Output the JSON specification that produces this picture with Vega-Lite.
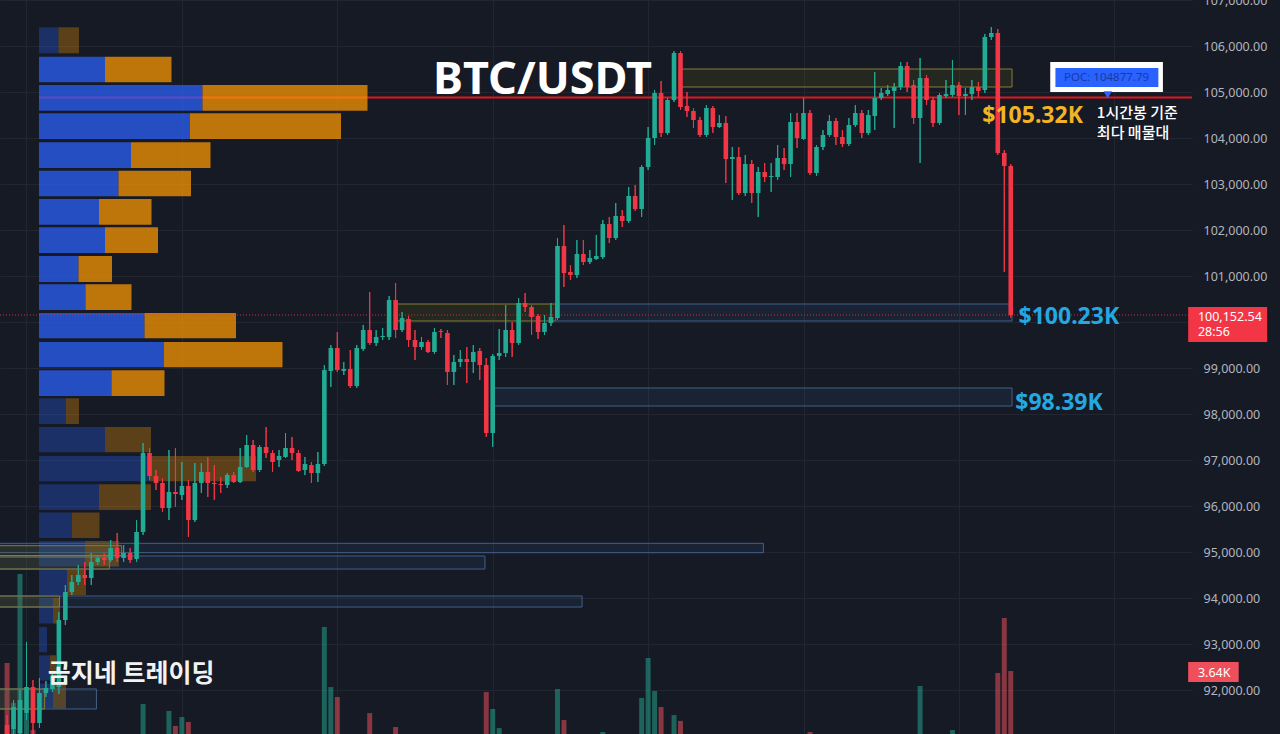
{
"$schema": "https://vega.github.io/schema/vega-lite/v6.json",
"width": 1192, "height": 734,
"autosize": {"type": "none"},
"padding": {"left": 0, "top": 0, "right": 88, "bottom": 0},
"background": "#161a25",
"config": {"view": {"stroke": null}},
"datasets": {
"candles": [
{"k":-3,"o":91239,"h":91457,"l":90804,"c":90978,"v":4010},
{"k":-2,"o":91152,"h":91783,"l":90978,"c":91630,"v":2170},
{"k":-1,"o":91065,"h":92000,"l":90978,"c":91783,"v":8110},
{"k":0,"o":91500,"h":93044,"l":91348,"c":92065,"v":1700},
{"k":1,"o":92065,"h":92217,"l":91022,"c":91283,"v":920},
{"k":2,"o":91283,"h":92261,"l":91174,"c":91935,"v":520},
{"k":3,"o":91935,"h":92196,"l":91848,"c":92043,"v":410},
{"k":4,"o":92022,"h":92391,"l":91957,"c":92304,"v":450},
{"k":5,"o":92065,"h":93696,"l":91913,"c":93522,"v":650},
{"k":6,"o":93522,"h":94283,"l":93413,"c":94130,"v":600},
{"k":7,"o":94130,"h":94500,"l":94065,"c":94348,"v":420},
{"k":8,"o":94348,"h":94717,"l":94283,"c":94500,"v":380},
{"k":9,"o":94500,"h":94783,"l":94283,"c":94435,"v":350},
{"k":10,"o":94435,"h":94978,"l":94283,"c":94783,"v":400},
{"k":11,"o":94783,"h":94935,"l":94717,"c":94870,"v":300},
{"k":12,"o":94870,"h":94978,"l":94717,"c":94826,"v":280},
{"k":13,"o":94826,"h":95261,"l":94783,"c":95087,"v":360},
{"k":14,"o":95087,"h":95413,"l":94783,"c":94870,"v":390},
{"k":15,"o":94870,"h":95152,"l":94783,"c":94978,"v":270},
{"k":16,"o":94978,"h":95087,"l":94761,"c":94826,"v":260},
{"k":17,"o":94848,"h":95696,"l":94783,"c":95435,"v":480},
{"k":18,"o":95435,"h":97370,"l":95370,"c":97152,"v":2120},
{"k":19,"o":97152,"h":97261,"l":96565,"c":96652,"v":690},
{"k":20,"o":96652,"h":96783,"l":96348,"c":96500,"v":430},
{"k":21,"o":96500,"h":96609,"l":95870,"c":95957,"v":610},
{"k":22,"o":95957,"h":97217,"l":95696,"c":96304,"v":1800},
{"k":23,"o":96304,"h":97261,"l":95978,"c":96261,"v":1110},
{"k":24,"o":96239,"h":96957,"l":96130,"c":96435,"v":1520},
{"k":25,"o":96435,"h":96565,"l":95326,"c":95696,"v":1290},
{"k":26,"o":95696,"h":96935,"l":95652,"c":96500,"v":640},
{"k":27,"o":96500,"h":96935,"l":96283,"c":96739,"v":420},
{"k":28,"o":96739,"h":97065,"l":96196,"c":96500,"v":450},
{"k":29,"o":96500,"h":96891,"l":96130,"c":96478,"v":380},
{"k":30,"o":96478,"h":96630,"l":96283,"c":96457,"v":300},
{"k":31,"o":96457,"h":96717,"l":96391,"c":96674,"v":310},
{"k":32,"o":96674,"h":96739,"l":96500,"c":96522,"v":260},
{"k":33,"o":96522,"h":97261,"l":96500,"c":96848,"v":520},
{"k":34,"o":96848,"h":97543,"l":96826,"c":97326,"v":580},
{"k":35,"o":97326,"h":97435,"l":96739,"c":96783,"v":540},
{"k":36,"o":96783,"h":97326,"l":96739,"c":97283,"v":470},
{"k":37,"o":97283,"h":97717,"l":97043,"c":97152,"v":450},
{"k":38,"o":97152,"h":97217,"l":96739,"c":96957,"v":330},
{"k":39,"o":97000,"h":97217,"l":96848,"c":97087,"v":280},
{"k":40,"o":97065,"h":97587,"l":97043,"c":97261,"v":360},
{"k":41,"o":97261,"h":97500,"l":97000,"c":97152,"v":300},
{"k":42,"o":97152,"h":97217,"l":96739,"c":96761,"v":420},
{"k":43,"o":96783,"h":97065,"l":96674,"c":96913,"v":290},
{"k":44,"o":96891,"h":96957,"l":96500,"c":96717,"v":350},
{"k":45,"o":96717,"h":97174,"l":96522,"c":96913,"v":400},
{"k":46,"o":96913,"h":99065,"l":96870,"c":98957,"v":5670},
{"k":47,"o":98935,"h":99500,"l":98587,"c":99435,"v":2900},
{"k":48,"o":99435,"h":99783,"l":98913,"c":98957,"v":2440},
{"k":49,"o":98935,"h":99130,"l":98848,"c":98978,"v":620},
{"k":50,"o":98978,"h":99391,"l":98565,"c":98609,"v":700},
{"k":51,"o":98609,"h":99500,"l":98565,"c":99435,"v":680},
{"k":52,"o":99413,"h":99935,"l":99370,"c":99826,"v":600},
{"k":53,"o":99826,"h":100652,"l":99500,"c":99543,"v":1700},
{"k":54,"o":99543,"h":99826,"l":99478,"c":99674,"v":500},
{"k":55,"o":99674,"h":99870,"l":99609,"c":99696,"v":380},
{"k":56,"o":99674,"h":100565,"l":99609,"c":100478,"v":690},
{"k":57,"o":100478,"h":100848,"l":99652,"c":99826,"v":1060},
{"k":58,"o":99826,"h":100217,"l":99783,"c":100087,"v":440},
{"k":59,"o":100065,"h":100130,"l":99457,"c":99609,"v":520},
{"k":60,"o":99609,"h":99826,"l":99174,"c":99457,"v":480},
{"k":61,"o":99457,"h":99674,"l":99391,"c":99565,"v":300},
{"k":62,"o":99565,"h":99609,"l":99326,"c":99348,"v":320},
{"k":63,"o":99348,"h":99870,"l":99304,"c":99783,"v":410},
{"k":64,"o":99804,"h":99848,"l":99652,"c":99783,"v":250},
{"k":65,"o":99761,"h":99826,"l":98630,"c":98913,"v":700},
{"k":66,"o":98913,"h":99283,"l":98630,"c":99130,"v":560},
{"k":67,"o":99130,"h":99391,"l":99022,"c":99196,"v":330},
{"k":68,"o":99196,"h":99457,"l":98674,"c":99130,"v":410},
{"k":69,"o":99130,"h":99500,"l":98891,"c":99348,"v":380},
{"k":70,"o":99370,"h":99435,"l":98739,"c":99065,"v":450},
{"k":71,"o":99065,"h":99217,"l":97500,"c":97587,"v":2670},
{"k":72,"o":97587,"h":99304,"l":97283,"c":99261,"v":1890},
{"k":73,"o":99261,"h":99848,"l":99174,"c":99326,"v":1010},
{"k":74,"o":99326,"h":100370,"l":99239,"c":99826,"v":700},
{"k":75,"o":99826,"h":100000,"l":99239,"c":99543,"v":520},
{"k":76,"o":99543,"h":100522,"l":99500,"c":100413,"v":690},
{"k":77,"o":100413,"h":100630,"l":100217,"c":100326,"v":380},
{"k":78,"o":100326,"h":100370,"l":99717,"c":100109,"v":420},
{"k":79,"o":100130,"h":100174,"l":99630,"c":99783,"v":460},
{"k":80,"o":99783,"h":100152,"l":99717,"c":99978,"v":350},
{"k":81,"o":99978,"h":100413,"l":99913,"c":100109,"v":400},
{"k":82,"o":100087,"h":101826,"l":100044,"c":101652,"v":2810},
{"k":83,"o":101652,"h":102109,"l":100761,"c":101065,"v":1380},
{"k":84,"o":101087,"h":101239,"l":100913,"c":101022,"v":430},
{"k":85,"o":101022,"h":101783,"l":100957,"c":101478,"v":560},
{"k":86,"o":101478,"h":101783,"l":101239,"c":101304,"v":450},
{"k":87,"o":101304,"h":101565,"l":101261,"c":101391,"v":300},
{"k":88,"o":101370,"h":101891,"l":101348,"c":101435,"v":320},
{"k":89,"o":101413,"h":102217,"l":101370,"c":102130,"v":830},
{"k":90,"o":102130,"h":102283,"l":101717,"c":101826,"v":540},
{"k":91,"o":101826,"h":102587,"l":101783,"c":102304,"v":600},
{"k":92,"o":102304,"h":102435,"l":102065,"c":102196,"v":380},
{"k":93,"o":102196,"h":102935,"l":102152,"c":102739,"v":560},
{"k":94,"o":102739,"h":102978,"l":102413,"c":102457,"v":480},
{"k":95,"o":102457,"h":103413,"l":102283,"c":103370,"v":2400},
{"k":96,"o":103370,"h":104239,"l":103304,"c":104000,"v":4240},
{"k":97,"o":104000,"h":105043,"l":103848,"c":104978,"v":2720},
{"k":98,"o":104978,"h":105239,"l":104022,"c":104109,"v":1980},
{"k":99,"o":104109,"h":104870,"l":104065,"c":104826,"v":700},
{"k":100,"o":104826,"h":105891,"l":104783,"c":105848,"v":1610},
{"k":101,"o":105848,"h":105891,"l":104609,"c":104674,"v":1340},
{"k":102,"o":104696,"h":105000,"l":104457,"c":104587,"v":600},
{"k":103,"o":104587,"h":104652,"l":104217,"c":104391,"v":500},
{"k":104,"o":104391,"h":104457,"l":104022,"c":104065,"v":520},
{"k":105,"o":104065,"h":104717,"l":104022,"c":104652,"v":560},
{"k":106,"o":104652,"h":104696,"l":104109,"c":104239,"v":450},
{"k":107,"o":104239,"h":104500,"l":104217,"c":104326,"v":300},
{"k":108,"o":104326,"h":104478,"l":103022,"c":103543,"v":700},
{"k":109,"o":103543,"h":103804,"l":102652,"c":103587,"v":620},
{"k":110,"o":103587,"h":103804,"l":102761,"c":102804,"v":650},
{"k":111,"o":102804,"h":103630,"l":102739,"c":103435,"v":600},
{"k":112,"o":103435,"h":103522,"l":102587,"c":102804,"v":560},
{"k":113,"o":102804,"h":103370,"l":102283,"c":103261,"v":640},
{"k":114,"o":103261,"h":103457,"l":103043,"c":103152,"v":330},
{"k":115,"o":103152,"h":103457,"l":102826,"c":103174,"v":350},
{"k":116,"o":103152,"h":103848,"l":103087,"c":103565,"v":480},
{"k":117,"o":103565,"h":103783,"l":103304,"c":103435,"v":340},
{"k":118,"o":103435,"h":104543,"l":103152,"c":104348,"v":650},
{"k":119,"o":104348,"h":104543,"l":103783,"c":104000,"v":470},
{"k":120,"o":103978,"h":104870,"l":103957,"c":104543,"v":620},
{"k":121,"o":104543,"h":104609,"l":103196,"c":103239,"v":830},
{"k":122,"o":103239,"h":103848,"l":103174,"c":103804,"v":520},
{"k":123,"o":103804,"h":104174,"l":103739,"c":104065,"v":380},
{"k":124,"o":104065,"h":104500,"l":104022,"c":104370,"v":410},
{"k":125,"o":104370,"h":104435,"l":103848,"c":104022,"v":390},
{"k":126,"o":104022,"h":104174,"l":103804,"c":103870,"v":300},
{"k":127,"o":103870,"h":104435,"l":103826,"c":104283,"v":420},
{"k":128,"o":104283,"h":104717,"l":104239,"c":104543,"v":380},
{"k":129,"o":104543,"h":104609,"l":104000,"c":104109,"v":400},
{"k":130,"o":104109,"h":104609,"l":104065,"c":104500,"v":360},
{"k":131,"o":104478,"h":105435,"l":104174,"c":104870,"v":640},
{"k":132,"o":104870,"h":105087,"l":104826,"c":104978,"v":300},
{"k":133,"o":104957,"h":105152,"l":104913,"c":105043,"v":280},
{"k":134,"o":105022,"h":105196,"l":104217,"c":105109,"v":450},
{"k":135,"o":105109,"h":105652,"l":105043,"c":105565,"v":560},
{"k":136,"o":105565,"h":105652,"l":105000,"c":105109,"v":500},
{"k":137,"o":105152,"h":105261,"l":104304,"c":104435,"v":620},
{"k":138,"o":104435,"h":105739,"l":103457,"c":105304,"v":2950},
{"k":139,"o":105304,"h":105370,"l":104717,"c":104826,"v":580},
{"k":140,"o":104826,"h":104891,"l":104239,"c":104326,"v":520},
{"k":141,"o":104326,"h":104978,"l":104283,"c":104935,"v":480},
{"k":142,"o":104913,"h":105261,"l":104870,"c":104957,"v":320},
{"k":143,"o":104935,"h":105696,"l":104891,"c":105152,"v":920},
{"k":144,"o":105152,"h":105217,"l":104500,"c":104913,"v":400},
{"k":145,"o":104913,"h":105087,"l":104500,"c":104957,"v":300},
{"k":146,"o":104957,"h":105261,"l":104826,"c":105109,"v":330},
{"k":147,"o":105109,"h":105217,"l":104891,"c":105022,"v":280},
{"k":148,"o":105043,"h":106261,"l":104978,"c":106196,"v":700},
{"k":149,"o":106196,"h":106413,"l":106130,"c":106283,"v":600},
{"k":150,"o":106283,"h":106370,"l":103630,"c":103674,"v":3550},
{"k":151,"o":103674,"h":103739,"l":101087,"c":103391,"v":6080},
{"k":152,"o":103391,"h":103435,"l":100100,"c":100152.54,"v":3640}
],
"profile": [
{"hi":106406,"lo":105841,"side":"up","from":0,"to":3.9,"va":"out"},
{"hi":106406,"lo":105841,"side":"down","from":3.9,"to":8.0,"va":"out"},
{"hi":105767,"lo":105211,"side":"up","from":0,"to":13.2,"va":"in"},
{"hi":105767,"lo":105211,"side":"down","from":13.2,"to":26.5,"va":"in"},
{"hi":105152,"lo":104593,"side":"up","from":0,"to":32.7,"va":"in"},
{"hi":105152,"lo":104593,"side":"down","from":32.7,"to":65.7,"va":"in"},
{"hi":104537,"lo":103978,"side":"up","from":0,"to":30.2,"va":"in"},
{"hi":104537,"lo":103978,"side":"down","from":30.2,"to":60.4,"va":"in"},
{"hi":103907,"lo":103348,"side":"up","from":0,"to":18.4,"va":"in"},
{"hi":103907,"lo":103348,"side":"down","from":18.4,"to":34.3,"va":"in"},
{"hi":103289,"lo":102733,"side":"up","from":0,"to":15.9,"va":"in"},
{"hi":103289,"lo":102733,"side":"down","from":15.9,"to":30.4,"va":"in"},
{"hi":102674,"lo":102115,"side":"up","from":0,"to":12.0,"va":"in"},
{"hi":102674,"lo":102115,"side":"down","from":12.0,"to":22.5,"va":"in"},
{"hi":102059,"lo":101500,"side":"up","from":0,"to":13.2,"va":"in"},
{"hi":102059,"lo":101500,"side":"down","from":13.2,"to":23.8,"va":"in"},
{"hi":101435,"lo":100870,"side":"up","from":0,"to":7.9,"va":"in"},
{"hi":101435,"lo":100870,"side":"down","from":7.9,"to":14.6,"va":"in"},
{"hi":100820,"lo":100261,"side":"up","from":0,"to":9.3,"va":"in"},
{"hi":100820,"lo":100261,"side":"down","from":9.3,"to":18.5,"va":"in"},
{"hi":100196,"lo":99646,"side":"up","from":0,"to":21.1,"va":"in"},
{"hi":100196,"lo":99646,"side":"down","from":21.1,"to":39.4,"va":"in"},
{"hi":99565,"lo":99015,"side":"up","from":0,"to":25.0,"va":"in"},
{"hi":99565,"lo":99015,"side":"down","from":25.0,"to":48.7,"va":"in"},
{"hi":98950,"lo":98391,"side":"up","from":0,"to":14.5,"va":"in"},
{"hi":98950,"lo":98391,"side":"down","from":14.5,"to":25.1,"va":"in"},
{"hi":98341,"lo":97783,"side":"up","from":0,"to":5.4,"va":"out"},
{"hi":98341,"lo":97783,"side":"down","from":5.4,"to":8.0,"va":"out"},
{"hi":97717,"lo":97167,"side":"up","from":0,"to":13.2,"va":"out"},
{"hi":97717,"lo":97167,"side":"down","from":13.2,"to":22.4,"va":"out"},
{"hi":97087,"lo":96537,"side":"up","from":0,"to":22.0,"va":"out"},
{"hi":97087,"lo":96537,"side":"down","from":22.0,"to":43.4,"va":"out"},
{"hi":96472,"lo":95913,"side":"up","from":0,"to":12.0,"va":"out"},
{"hi":96472,"lo":95913,"side":"down","from":12.0,"to":22.4,"va":"out"},
{"hi":95859,"lo":95304,"side":"up","from":0,"to":6.6,"va":"out"},
{"hi":95859,"lo":95304,"side":"down","from":6.6,"to":12.1,"va":"out"},
{"hi":95239,"lo":94685,"side":"up","from":0,"to":9.2,"va":"out"},
{"hi":95239,"lo":94685,"side":"down","from":9.2,"to":16.0,"va":"out"},
{"hi":94620,"lo":94065,"side":"up","from":0,"to":5.6,"va":"out"},
{"hi":94620,"lo":94065,"side":"down","from":5.6,"to":9.4,"va":"out"},
{"hi":94000,"lo":93446,"side":"up","from":0,"to":2.8,"va":"out"},
{"hi":94000,"lo":93446,"side":"down","from":2.8,"to":4.2,"va":"out"},
{"hi":93370,"lo":92820,"side":"up","from":0,"to":1.6,"va":"out"},
{"hi":92755,"lo":92207,"side":"up","from":0,"to":2.2,"va":"out"},
{"hi":92755,"lo":92207,"side":"down","from":2.2,"to":3.4,"va":"out"},
{"hi":92141,"lo":91598,"side":"up","from":0,"to":2.8,"va":"out"},
{"hi":92141,"lo":91598,"side":"down","from":2.8,"to":5.4,"va":"out"}
],
"zones": [
{"x1":100.8,"x2":152.2,"p1":105109,"p2":105500,"t":"y"},
{"x1":57.2,"x2":81.7,"p1":100022,"p2":100391,"t":"y"},
{"x1":81.7,"x2":152.2,"p1":100022,"p2":100391,"t":"b"},
{"x1":71.9,"x2":152.2,"p1":98174,"p2":98565,"t":"b"},
{"x1":-5,"x2":113.8,"p1":94985,"p2":95189,"t":"b"},
{"x1":-5,"x2":70.8,"p1":94630,"p2":94913,"t":"b"},
{"x1":-5,"x2":85.8,"p1":93804,"p2":94043,"t":"b"},
{"x1":-5,"x2":14.7,"p1":94924,"p2":95137,"t":"y"},
{"x1":-5,"x2":12.8,"p1":94630,"p2":94891,"t":"y"},
{"x1":-5,"x2":5.1,"p1":93804,"p2":94043,"t":"y"},
{"x1":-5,"x2":10.8,"p1":91587,"p2":92022,"t":"b"},
{"x1":-5,"x2":2.8,"p1":91587,"p2":92022,"t":"y"}
]
},
"resolve": {"scale": {"x": "independent", "y": "independent"}},
"layer": [
{
"data": {"name": "candles"},
"mark": {"type": "bar", "width": 5, "opacity": 0.5, "clip": true},
"encoding": {
"x": {"field": "k", "type": "quantitative", "scale": {"domain": [-3.32, 179.22], "nice": false, "zero": false}, "axis": null},
"y": {"field": "v", "type": "quantitative", "scale": {"domain": [737, 34560], "nice": false, "zero": false}, "axis": null},
"y2": {"datum": 0},
"color": {"condition": {"test": "datum.c >= datum.o", "value": "#22ab94"}, "value": "#f7525f"}
}
},
{
"layer": [
{
"data": {"values": [{"p": 104877.79}]},
"mark": {"type": "rule", "color": "#e3141c", "strokeWidth": 2, "clip": true},
"encoding": {
"x": {"datum": 0, "type": "quantitative", "scale": {"domain": [-7.8, 230.6], "nice": false, "zero": false}, "axis": null},
"x2": {"datum": 240},
"y": {"field": "p", "type": "quantitative", "scale": {"domain": [91043.5, 107000], "nice": false, "zero": false}, "axis": null}
}
},
{
"data": {"name": "profile"},
"mark": {"type": "rect"},
"encoding": {
"x": {"field": "from", "type": "quantitative", "scale": {"domain": [-7.8, 230.6], "nice": false, "zero": false}, "axis": null},
"x2": {"field": "to"},
"y": {"field": "hi", "type": "quantitative", "scale": {"domain": [91043.5, 107000], "nice": false, "zero": false}, "axis": null},
"y2": {"field": "lo"},
"color": {"field": "side", "type": "nominal", "scale": {"domain": ["up", "down"], "range": ["#2962ff", "#ff9800"]}, "legend": null},
"opacity": {"field": "va", "type": "nominal", "scale": {"domain": ["in", "out"], "range": [0.72, 0.3]}, "legend": null}
}
}
]
},
{
"layer": [
{
"data": {"name": "candles"},
"mark": {"type": "rule", "strokeWidth": 1, "clip": true},
"encoding": {
"x": {"field": "k", "type": "quantitative", "scale": {"domain": [-3.32, 179.22], "nice": false, "zero": false},
 "axis": {"values": [0, 24, 48, 72, 96, 120, 144, 168], "grid": true, "gridColor": "#222631", "labels": false, "ticks": false, "domain": false, "title": null}},
"y": {"field": "l", "type": "quantitative", "scale": {"domain": [91043.5, 107000], "nice": false, "zero": false},
 "axis": {"orient": "right", "values": [92000, 93000, 94000, 95000, 96000, 97000, 98000, 99000, 100000, 101000, 102000, 103000, 104000, 105000, 106000, 107000], "format": ",.2f", "labelExpr": "datum.value == 100000 ? '' : datum.label", "grid": true, "gridColor": "#222631", "domain": false, "ticks": false, "labelPadding": 11, "labelColor": "#b2b5be", "labelFont": "Noto Sans", "labelFontSize": 12.5, "labelOverlap": false, "title": null}},
"y2": {"field": "h"},
"color": {"condition": {"test": "datum.c >= datum.o", "value": "#22ab94"}, "value": "#f23645"}
}
},
{
"data": {"name": "zones"},
"mark": {"type": "rect", "strokeWidth": 1, "clip": true},
"encoding": {
"x": {"field": "x1", "type": "quantitative"},
"x2": {"field": "x2"},
"y": {"field": "p1", "type": "quantitative"},
"y2": {"field": "p2"},
"fill": {"condition": {"test": "datum.t == 'y'", "value": "#8a7a10"}, "value": "#3d6ea8"},
"fillOpacity": {"condition": {"test": "datum.t == 'y'", "value": 0.14}, "value": 0.12},
"stroke": {"condition": {"test": "datum.t == 'y'", "value": "#857d35"}, "value": "#41608a"}
}
},
{
"data": {"values": [{"p": 100152.54}]},
"mark": {"type": "rule", "color": "#f23645", "strokeWidth": 1, "strokeDash": [1, 2], "opacity": 0.8},
"encoding": {"y": {"field": "p", "type": "quantitative"}}
},
{
"data": {"name": "candles"},
"mark": {"type": "rule", "strokeWidth": 1, "clip": true},
"encoding": {
"x": {"field": "k", "type": "quantitative"},
"y": {"field": "l", "type": "quantitative"},
"y2": {"field": "h"},
"color": {"condition": {"test": "datum.c >= datum.o", "value": "#22ab94"}, "value": "#f23645"}
}
},
{
"data": {"name": "candles"},
"mark": {"type": "bar", "width": 4.6, "clip": true},
"encoding": {
"x": {"field": "k", "type": "quantitative"},
"y": {"field": "o", "type": "quantitative"},
"y2": {"field": "c"},
"color": {"condition": {"test": "datum.c >= datum.o", "value": "#22ab94"}, "value": "#f23645"}
}
},
{
"data": {"values": [{"k": 79.7, "p": 104957, "t": "BTC/USDT"}]},
"mark": {"type": "text", "font": "Noto Sans", "fontSize": 45, "fontWeight": "bold", "color": "#ffffff", "align": "center", "baseline": "alphabetic"},
"encoding": {"x": {"field": "k", "type": "quantitative"}, "y": {"field": "p", "type": "quantitative"}, "text": {"field": "t"}}
},
{
"data": {"values": [{"k": 147.6, "p": 104333, "t": "$105.32K"}]},
"mark": {"type": "text", "font": "Noto Sans", "fontSize": 23, "fontWeight": "bold", "color": "#f2b325", "align": "left", "baseline": "alphabetic"},
"encoding": {"x": {"field": "k", "type": "quantitative"}, "y": {"field": "p", "type": "quantitative"}, "text": {"field": "t"}}
},
{
"data": {"values": [{"k": 153.2, "p": 99957, "t": "$100.23K"}, {"k": 152.7, "p": 98087, "t": "$98.39K"}]},
"mark": {"type": "text", "font": "Noto Sans", "fontSize": 23, "fontWeight": "bold", "color": "#23a8e2", "align": "left", "baseline": "alphabetic"},
"encoding": {"x": {"field": "k", "type": "quantitative"}, "y": {"field": "p", "type": "quantitative"}, "text": {"field": "t"}}
},
{
"data": {"values": [{"k": 165.3, "p": 104435, "t": "1시간봉 기준"}, {"k": 165.3, "p": 103990, "t": "최다 매물대"}]},
"mark": {"type": "text", "font": "Noto Sans CJK KR", "fontSize": 15, "fontWeight": 500, "color": "#ffffff", "align": "left", "baseline": "alphabetic"},
"encoding": {"x": {"field": "k", "type": "quantitative"}, "y": {"field": "p", "type": "quantitative"}, "text": {"field": "t"}}
},
{
"data": {"values": [{"k": 3.3, "p": 92174, "t": "곰지네 트레이딩"}]},
"mark": {"type": "text", "font": "Noto Sans CJK KR", "fontSize": 25, "fontWeight": "bold", "color": "#f2f2f2", "align": "left", "baseline": "alphabetic"},
"encoding": {"x": {"field": "k", "type": "quantitative"}, "y": {"field": "p", "type": "quantitative"}, "text": {"field": "t"}}
},
{
"data": {"values": [{"x1": 158.1, "x2": 175.5, "p1": 105000, "p2": 105652}]},
"mark": {"type": "rect", "color": "#ffffff"},
"encoding": {"x": {"field": "x1", "type": "quantitative"}, "x2": {"field": "x2"}, "y": {"field": "p1", "type": "quantitative"}, "y2": {"field": "p2"}}
},
{
"data": {"values": [{"x1": 158.9, "x2": 174.8, "p1": 105109, "p2": 105522}]},
"mark": {"type": "rect", "color": "#2962ff"},
"encoding": {"x": {"field": "x1", "type": "quantitative"}, "x2": {"field": "x2"}, "y": {"field": "p1", "type": "quantitative"}, "y2": {"field": "p2"}}
},
{
"data": {"values": [{"k": 166.97, "p": 104935}]},
"mark": {"type": "point", "shape": "triangle-down", "size": 70, "filled": true, "color": "#2962ff", "opacity": 1},
"encoding": {"x": {"field": "k", "type": "quantitative"}, "y": {"field": "p", "type": "quantitative"}}
},
{
"data": {"values": [{"k": 166.8, "p": 105315, "t": "POC: 104877.79"}]},
"mark": {"type": "text", "font": "Noto Sans", "fontSize": 11.5, "color": "#1a3aa0", "align": "center", "baseline": "middle"},
"encoding": {"x": {"field": "k", "type": "quantitative"}, "y": {"field": "p", "type": "quantitative"}, "text": {"field": "t"}}
},
{
"data": {"values": [{"x1": 179.4, "x2": 191.6, "p1": 99565, "p2": 100326}]},
"mark": {"type": "rect", "color": "#f23645"},
"encoding": {"x": {"field": "x1", "type": "quantitative"}, "x2": {"field": "x2"}, "y": {"field": "p1", "type": "quantitative"}, "y2": {"field": "p2"}}
},
{
"data": {"values": [{"x1": 179.4, "x2": 187.2, "p1": 92174, "p2": 92609}]},
"mark": {"type": "rect", "color": "#ef4f5b"},
"encoding": {"x": {"field": "x1", "type": "quantitative"}, "x2": {"field": "x2"}, "y": {"field": "p1", "type": "quantitative"}, "y2": {"field": "p2"}}
},
{
"data": {"values": [{"k": 180.9, "p": 100022, "t": "100,152.54"}, {"k": 180.9, "p": 99685, "t": "28:56"}, {"k": 180.9, "p": 92293, "t": "3.64K"}]},
"mark": {"type": "text", "font": "Noto Sans", "fontSize": 12.5, "color": "#ffffff", "align": "left", "baseline": "alphabetic"},
"encoding": {"x": {"field": "k", "type": "quantitative"}, "y": {"field": "p", "type": "quantitative"}, "text": {"field": "t"}}
}
]
}
]
}
